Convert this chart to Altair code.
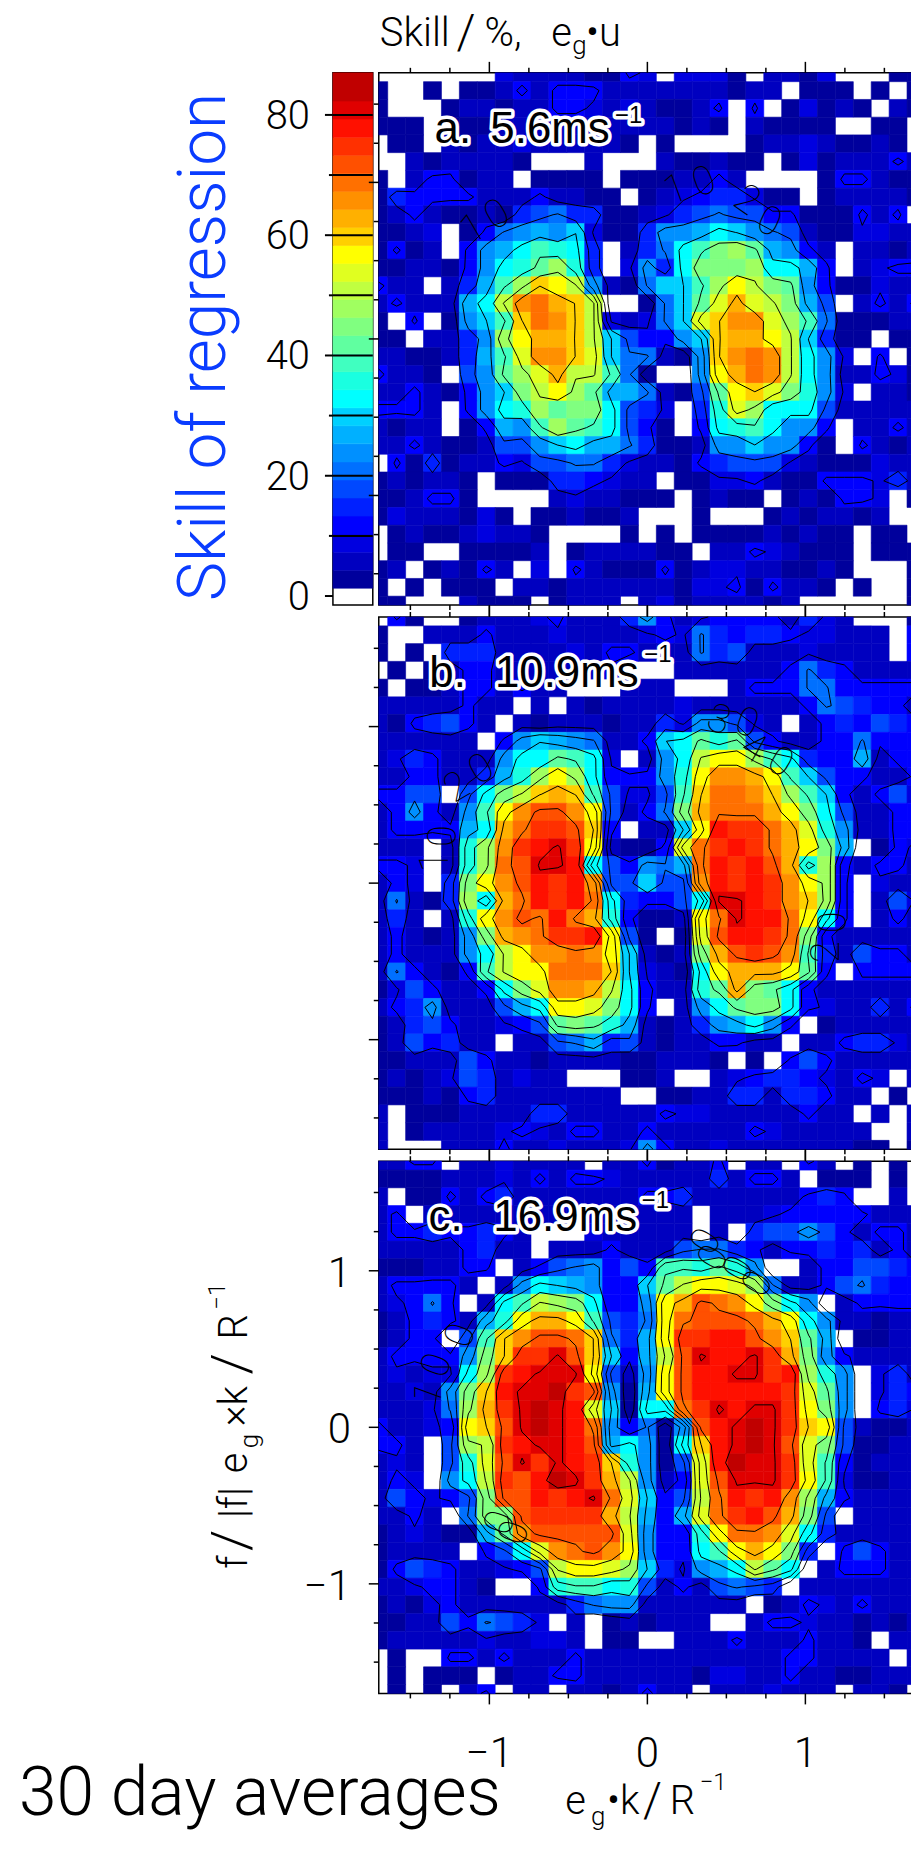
import altair as alt
import pandas as pd

# Band colours of the colour bar, lowest band first (white = below the lowest band)
BAND_COLORS = ["#00009c","#0000c0","#0000e0","#0000ff","#0020ff","#0048ff","#0070ff","#0090ff",
               "#00b0ff","#00d0ff","#00ffff","#1affe0","#40ffc0","#60ffa0","#80ff80","#a0ff60",
               "#c0ff40","#e0ff20","#ffff00","#ffd000","#ffb000","#ff9000","#ff7000","#ff5000",
               "#ff3000","#ff1000","#e00000","#c00000"]
BAND_KEYS = "0123456789abcdefghijklmnopqr"
BAND_LOW = 1.3
BAND_STEP = 3.0
BAR_MIN, BAR_MAX = -1.5, 87.0

# One character per cell: band key, "." = white (no skill)
PANEL_A = [
".......211110032.2220.1102...00",
"0..0.001313331111111011.000.0.0",
"0...0110113321210013.3.02010.10",
"000.0001111111111010.10000..00.",
".00.10112111110.0....011210010.",
"..1011110...1...100100.02011131",
"0.133011.0000.0001131....033100",
"04333311131100.012344200.011110",
"013100104564400124565533000313.",
"0012.03678792004778a97651002211",
"0301.378acba4.146acefd8731.1101",
"0011037abdfb4.274aeeefaa83.1233",
"311.148cfjig710699cfiged7300211",
"131118aglmkjg..069dhkhge85.1313",
"0.3.079cjmljg21269hjllhfc600011",
"00.1147fikkjg953379jkkig9400.00",
"1100148chlljh966107jlmlga72.3.0",
"3110.57dfhkggc60..7ikmlga711320",
"11310379egifd886105dijheb72.110",
"3331.37abfdeea542.4bhfaaa511111",
"1011.0387cfdca530.3abca773.1131",
"11310015579a88640017797730.3101",
".304011325566421103455521000211",
"010110.000443211.00223100333241",
"001330....1211000.0100.010332.0",
"02111020.001001...0...0101101..",
".010012110....0.0.000010100.00.",
".00..00001.0111100.11321000.000",
"01.01031.2.3100030122110010...0",
"0.0.000.110111111022303110.0..0",
"00...1000.0111.120111101......0",
]
PANEL_B = [
".30..0111231114731233331421...0",
"0..11131112111123264344322111.3",
"0.0.4441111213311164511121111.3",
".0.01331111112...11111136431111",
"0.001331311...111...13336633333",
"11111311.1.10111121111113654331",
"1034531.101110114277521.1343543",
"111111.3798761139adbd5311336333",
"12431117aadca2.17agiifca4338133",
"11331148bfifa3337billkic9533113",
"3355.5aegjkjc5225cjmmljfc931352",
"137317cilnnli5136ekmmmkiea51133",
"133338akmoonj3.119ipoomkhb71133",
"111.1bflopqoi1003hmopomkie8.032",
"332.1bfmnqqpa53768mpopnkbf31331",
"132.4eilnpopl55955lpopolif3.211",
"16104fakmpopma4335aqqpoljf3.152",
"141.1bilnmpmkb3001imqppmia3.131",
"131017eklmoopi50.0hnppome311111",
"131117agillmli9101eknonlc415331",
"163103cgiimmmj9210aikkkid3.3333",
"0253113aehllkga311bdkeda3111111",
"134711158aiihea3.17adeea3211413",
"0145311235dedb8101478a73.011111",
"0153411.115684510113311.1134421",
"00111531101111001110.0.35311111",
"01012541211...001..1234432132.1",
"00010341111111..001144144311.0.",
"1.0001111441111132211111311.1.1",
"1.01111232133113111113211111..1",
"1...1113112111273112111111100.0",
]
PANEL_C = [
"1133.1121111.1130113.11.31.0.0.",
"000011121313321111141331.000.0.",
"1.0031341111111334111111343..1.",
"13.111111111111111.111233333111",
"133433431...211111.1.4557531331",
"111113411.111311156643133434131",
"0001133.13567353ccbdb7..1335543",
"133331.17a987339dgiihf611356433",
"12363.1acgfea337iknmliea7.13333",
"0134318bikkic546imnnnmkia711011",
"0133.5cjlnnmj648iooppnljd8.0011",
"133337ejooqnj938gnqppqoke731111",
"12122afopqqqi517inppqqopfb7.241",
"11217ejpqqron708inpppppohd7.243",
"11126fkoqrqph90aamoqpqqoie7.342",
"31123ijnqrqpm73607npqrqoji51001",
"331.5fgopqqpn8a70ajpqrqnhe50011",
"121.5bhnqoqpojb705hprqqohc30111",
"132.7agonprqokg713hnqqqoic20011",
"153235ennpopqmh935gmpoplf831111",
"1131.6eenooookg838hmopnke5.1111",
"0121008dlnnnnnh733bimmlha411111",
"01111.35ahlmnli733acikie4.35311",
"0354311235giihf94278agda.133311",
"1123310..3bccab51315654.1111111",
"010231111114677111111.013213111",
"0011536542.1.010111..1332110101",
"011111211221.00..11131113110.11",
".0..3313111311111111111331111.1",
".0.000.011331111110221131100111",
".0.0.13.11.1101311.1112111.110.",
]

CONTOUR_LEVELS = [10, 20, 30, 40, 50, 60, 70, 80]
X_TICKS = [-1.5,-1.25,-1,-0.75,-0.5,-0.25,0,0.25,0.5,0.75,1,1.25,1.5]
MAJOR_TICKS = [-1, 0, 1]
MAJOR_LABELS = ["\u22121", "0", "1"]
MINOR_TICKS = [t for t in X_TICKS if t not in MAJOR_TICKS]
CBAR_TICKS = [0,10,20,30,40,50,60,70,80]

# character, x, y, angle of contour-label glyphs
GLYPHS_A = [("1",-1.10,0.70,330),("0",-0.95,0.79,330),("1",0.18,0.95,340),("0",0.36,1.0,340),
            ("2",0.63,0.885,35),("0",0.77,0.745,25)]
GLYPHS_B = [("1",-1.34,0.137,270),("0",-1.29,0.30,270),("2",-1.205,0.61,330),("0",-1.05,0.725,330),
            ("3",0.45,1.04,20),("0",0.63,1.02,20),("4",0.67,0.86,30),("0",0.84,0.77,30),
            ("2",1.14,-0.44,270),("0",1.18,-0.25,270)]
GLYPHS_C = [("0",-1.18,0.585,290),("0",-1.33,0.395,290),("1",-1.38,0.21,290),("0",-0.93,-0.61,290),
            ("0",-0.84,-0.675,290),("0",0.375,1.185,300),("0",0.42,1.08,300),("0",0.58,1.01,300),("0",0.70,0.915,300)]

# letter, speed, x of letter, x of speed, x of exponent, y of exponent
TAGS = [("a.","5.6ms",-1.347,-0.994,-0.205,1.38),
        ("b.","10.9ms",-1.38,-0.965,-0.02,1.41),
        ("c.","16.9ms",-1.385,-0.975,-0.035,1.40)]
TAG_Y = 1.254

FONT = "Roboto"
W, H = 539, 534
CB_W = 40
XRANGE = 1.7
STEP = 2 * XRANGE / 30
SCALE = alt.Scale(domain=[-XRANGE, XRANGE], nice=False, zero=False)


def grid_values(rows):
    return [[None if ch == "." else BAND_LOW + BAND_STEP * (BAND_KEYS.index(ch) + 0.5) for ch in row] for row in rows]


def cells(rows):
    out = []
    for r, row in enumerate(rows):
        for c, ch in enumerate(row):
            if ch == ".":
                continue
            xc, yc = -XRANGE + c * STEP, XRANGE - r * STEP
            out.append(dict(x0=max(xc - STEP / 2, -XRANGE), x1=min(xc + STEP / 2, XRANGE),
                            y0=max(yc - STEP / 2, -XRANGE), y1=min(yc + STEP / 2, XRANGE),
                            band=BAND_KEYS.index(ch)))
    return pd.DataFrame(out)


def contours(rows):
    v = [[0.0 if z is None else z for z in row] for row in grid_values(rows)]
    n = len(v)
    segs = []
    for lev in CONTOUR_LEVELS:
        for r in range(n - 1):
            for c in range(n - 1):
                tl, tr, br, bl = v[r][c], v[r][c + 1], v[r + 1][c + 1], v[r + 1][c]
                xl, xr = -XRANGE + c * STEP, -XRANGE + (c + 1) * STEP
                yt, yb = XRANGE - r * STEP, XRANGE - (r + 1) * STEP
                pts = {}
                if (tl >= lev) != (tr >= lev):
                    pts["t"] = (xl + (lev - tl) / (tr - tl) * STEP, yt)
                if (tr >= lev) != (br >= lev):
                    pts["r"] = (xr, yt - (lev - tr) / (br - tr) * STEP)
                if (bl >= lev) != (br >= lev):
                    pts["b"] = (xl + (lev - bl) / (br - bl) * STEP, yb)
                if (tl >= lev) != (bl >= lev):
                    pts["l"] = (xl, yt - (lev - tl) / (bl - tl) * STEP)
                if len(pts) == 2:
                    pairs = [tuple(pts)]
                elif len(pts) == 4:
                    centre = (tl + tr + br + bl) / 4 >= lev
                    if (tl >= lev) == centre:
                        pairs = [("t", "r"), ("b", "l")]
                    else:
                        pairs = [("t", "l"), ("r", "b")]
                else:
                    pairs = []
                for a, b in pairs:
                    segs.append(dict(x0=pts[a][0], y0=pts[a][1], x1=pts[b][0], y1=pts[b][1]))
    return pd.DataFrame(segs)


band_scale = alt.Scale(domain=list(range(len(BAND_COLORS))), range=BAND_COLORS)
ONE = pd.DataFrame({"a": [0]})


def note(text, x, y, size=40, angle=0, color="black", weight=300):
    return alt.Chart(ONE).mark_text(text=text, font=FONT, fontSize=size, fontWeight=weight, angle=angle,
                                    align="left", baseline="alphabetic",
                                    color=color).encode(x=alt.value(x), y=alt.value(y))


def tick_layers():
    layers = []
    for vals, n_top, n_left in ((MINOR_TICKS, 5, 5), (MAJOR_TICKS, 11, 10)):
        d = pd.DataFrame({"t": vals})
        X = alt.X("t:Q", scale=SCALE, axis=None)
        Y = alt.Y("t:Q", scale=SCALE, axis=None)
        base = alt.Chart(d).mark_rule(color="black", strokeWidth=1.5)
        layers.append(base.encode(x=X, y=alt.value(-n_top), y2=alt.value(0)))
        layers.append(base.encode(x=X, y=alt.value(H), y2=alt.value(H + n_top)))
        layers.append(base.encode(y=Y, x=alt.value(-n_left), x2=alt.value(0)))
    return layers


def panel(rows, glyphs, tag, labelled=False, extra=()):
    rect = alt.Chart(cells(rows)).mark_rect(strokeWidth=0.6).encode(
        x=alt.X("x0:Q", scale=SCALE, axis=None), x2="x1:Q",
        y=alt.Y("y0:Q", scale=SCALE, axis=None), y2="y1:Q",
        color=alt.Color("band:O", scale=band_scale, legend=None),
        stroke=alt.Stroke("band:O", scale=band_scale, legend=None),
    )
    X0 = alt.X("x0:Q", scale=SCALE, axis=None)
    Y0 = alt.Y("y0:Q", scale=SCALE, axis=None)
    lines = alt.Chart(contours(rows)).mark_rule(color="black", strokeWidth=1).encode(
        x=X0, x2="x1:Q", y=Y0, y2="y1:Q")
    gd = pd.DataFrame(glyphs, columns=["ch", "x0", "y0", "ang"])
    glyph_layers = [
        alt.Chart(gd[gd.ang == a]).mark_text(font=FONT, fontSize=40, fontWeight=100, angle=int(a), color="black").encode(
            x=X0, y=Y0, text="ch:N") for a in sorted(gd.ang.unique())
    ]
    letter, speed, xl, xs, xe, ye = tag
    td = pd.DataFrame([dict(t=letter, x0=xl, y0=TAG_Y), dict(t=speed, x0=xs, y0=TAG_Y)])
    ed = pd.DataFrame([dict(t="\u22121", x0=xe, y0=ye)])
    def tag_marks(data, size):
        halo = alt.Chart(data).mark_text(font="Liberation Sans", fontSize=size, align="left", baseline="alphabetic",
                                         stroke="white", strokeWidth=7, strokeJoin="round", color="white").encode(
            x=X0, y=Y0, text="t:N")
        ink = alt.Chart(data).mark_text(font="Liberation Sans", fontSize=size, align="left", baseline="alphabetic",
                                        color="black").encode(x=X0, y=Y0, text="t:N")
        return [halo, ink]
    layers = [rect, lines] + glyph_layers + tag_marks(td, 44) + tag_marks(ed, 24) + tick_layers() + list(extra)
    if labelled:
        ld = pd.DataFrame({"t": MAJOR_TICKS, "s": MAJOR_LABELS})
        layers.append(alt.Chart(ld).mark_text(font=FONT, fontSize=42, fontWeight=300, align="center", baseline="alphabetic",
                                              color="black").encode(
            x=alt.X("t:Q", scale=SCALE, axis=None), y=alt.value(608), text="s:N"))
        layers.append(alt.Chart(ld).mark_text(font=FONT, fontSize=42, fontWeight=300, align="right", baseline="middle", dy=3,
                                              color="black").encode(
            y=alt.Y("t:Q", scale=SCALE, axis=None), x=alt.value(-28), text="s:N"))
    return alt.layer(*layers).properties(width=W, height=H, view=alt.ViewConfig(stroke="black", strokeWidth=1.5))


def colorbar():
    bands = pd.DataFrame([dict(lo=BAND_LOW + BAND_STEP * k,
                               hi=BAR_MAX if k == len(BAND_COLORS) - 1 else BAND_LOW + BAND_STEP * (k + 1),
                               band=k) for k in range(len(BAND_COLORS))])
    cscale = alt.Scale(domain=[BAR_MIN, BAR_MAX], nice=False, zero=False)
    rect = alt.Chart(bands).mark_rect(strokeWidth=0.6).encode(
        y=alt.Y("lo:Q", scale=cscale, axis=None),
        y2="hi:Q", color=alt.Color("band:O", scale=band_scale, legend=None),
        stroke=alt.Stroke("band:O", scale=band_scale, legend=None),
        x=alt.value(0), x2=alt.value(CB_W))
    Yt = alt.Y("t:Q", scale=cscale, axis=None)
    across = alt.Chart(pd.DataFrame({"t": CBAR_TICKS[1:]})).mark_rule(color="black", strokeWidth=2).encode(
        y=Yt, x=alt.value(0), x2=alt.value(CB_W))
    long_t = alt.Chart(pd.DataFrame({"t": CBAR_TICKS[::2]})).mark_rule(color="black", strokeWidth=2).encode(
        y=Yt, x=alt.value(-8), x2=alt.value(0))
    short_t = alt.Chart(pd.DataFrame({"t": CBAR_TICKS[1::2]})).mark_rule(color="black", strokeWidth=2).encode(
        y=Yt, x=alt.value(-4), x2=alt.value(0))
    labels = alt.Chart(pd.DataFrame({"t": CBAR_TICKS[::2]})).mark_text(
        font=FONT, fontSize=40, fontWeight=300, align="right", baseline="middle", dy=2, color="black").encode(
        y=Yt, x=alt.value(-23), text="t:Q")
    skill = alt.Chart(ONE).mark_text(text="Skill of regression", font=FONT, fontSize=66, fontWeight=300, angle=270,
                                     align="center", baseline="alphabetic", color="#0a3cff").encode(
        x=alt.value(-108), y=alt.value(275))
    return alt.layer(rect, across, long_t, short_t, labels, skill).properties(
        width=CB_W, height=H, view=alt.ViewConfig(stroke="black", strokeWidth=1.5))


def blank():
    return alt.Chart(ONE).mark_point(opacity=0).encode(x=alt.value(0), y=alt.value(0)).properties(
        width=CB_W, height=H, view=alt.ViewConfig(stroke=None))


top_notes = [note("Skill", 1, -27), note("/", 78, -25, size=48), note("%,", 106, -27),
             note("e", 173, -27), note("g", 194, -19, size=26), note("\u2022u", 208, -27)]
bottom_notes = [note("30 day averages", -361, 656, size=68),
                note("e", 187, 655), note("g", 213, 666, size=26), note("\u2022k", 229, 655),
                note("/", 265, 657, size=48), note("R", 292, 655),
                note("\u22121", 322, 631, size=24),
                note("f", -132, 409, angle=270), note("/", -130, 391, size=54, angle=270),
                note("|f|", -132, 358, angle=270), note("e", -132, 313, angle=270),
                note("g", -121, 288, size=26, angle=270), note("\u00d7k", -132, 266, angle=270),
                note("/", -130, 214, size=54, angle=270), note("R", -132, 179, angle=270),
                note("\u22121", -154, 149, size=24, angle=270)]

chart = alt.concat(
    colorbar(), panel(PANEL_A, GLYPHS_A, TAGS[0], extra=top_notes),
    blank(), panel(PANEL_B, GLYPHS_B, TAGS[1]),
    blank(), panel(PANEL_C, GLYPHS_C, TAGS[2], labelled=True, extra=bottom_notes),
    columns=2, spacing={"row": 12, "column": 6}, bounds="flush", align="each",
).resolve_scale(color="shared", stroke="shared").properties(
    padding={"left": 10, "top": -2, "right": -7, "bottom": -1}
).configure(background="white")

chart.save("out.html", embed_options={"renderer": "svg", "actions": False})
